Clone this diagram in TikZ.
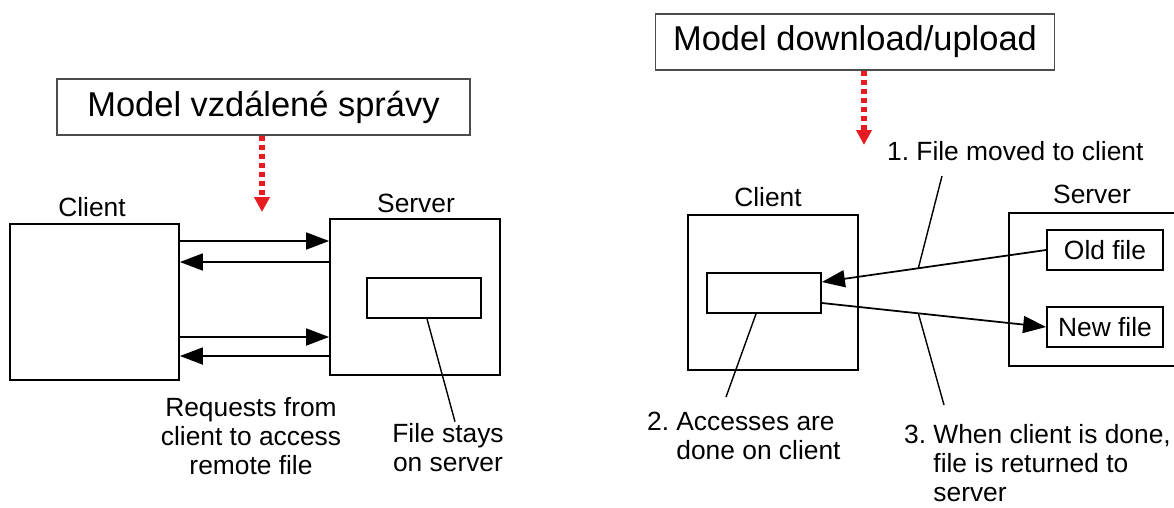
\documentclass[tikz,border=0pt]{standalone}
\usepackage{fontspec}
\setmainfont{Liberation Sans}
\usetikzlibrary{arrows.meta}
\definecolor{hintred}{RGB}{232,28,32}
\frenchspacing

\begin{document}
\begin{tikzpicture}[x=0.2mm,y=-0.2mm,
		box/.style={draw, line width=1pt, inner sep=0pt},
		titlebox/.style={draw=black!70, line width=0.6pt, minimum height=11.2mm,
			inner sep=0pt, font=\fontsize{19.6pt}{24pt}\selectfont},
		lbl/.style={inner sep=1pt, font=\fontsize{15pt}{16.5pt}\selectfont},
		arr/.style={line width=1pt, -{Triangle[length=4.6mm,width=3.4mm]}},
		hint/.style={hintred, line width=3pt, dash pattern=on 1mm off 0.8mm,
			-{Triangle[length=3mm,width=3mm,sep=0.6mm]}},
		pin/.style={line width=0.8pt}]
	\clip (0,0) rectangle (1174,507);
	% left: remote access
	\node[titlebox, minimum width=82.6mm] (tA) at (263.5,107) {Model vzdálené správy};
	\coordinate (hA) at (262,215);
	\draw[hint] (tA.south -| hA) -- (hA);
	\node[lbl] (cAl) at (92,207) {Client};
	\node[lbl] (sAl) at (416,203) {Server};
	\node[box, minimum width=33.8mm, minimum height=31.2mm] (cA) at (94.5,302) {};
	\node[box, minimum width=34mm, minimum height=31.2mm] (sA) at (415,297) {};
	\node[box, minimum width=22.8mm, minimum height=8mm] (fA) at (424,298) {};
	\foreach \y in {241,337}
		\draw[arr] (cA.east |- 0,\y) -- (sA.west |- 0,\y);
	\foreach \y in {262,356}
		\draw[arr] (sA.west |- 0,\y) -- (cA.east |- 0,\y);
	\node[lbl, align=center] (reqA) at (251,436) {Requests from\\client to access\\remote file};
	\node[lbl, align=center] (stayA) at (448,448) {File stays\\on server};
	\draw[pin] (fA.south -| 427,0) -- (stayA.north -| 455,0);
	% right: download/upload
	\node[titlebox, minimum width=79.8mm] (tB) at (855,42) {Model download/upload};
	\coordinate (hB) at (864,148);
	\draw[hint] (tB.south -| hB) -- (hB);
	\node[lbl, anchor=west] (l1) at (885,151) {1. File moved to client};
	\node[lbl] (cBl) at (768,197) {Client};
	\node[lbl] (sBl) at (1092,194) {Server};
	\node[box, minimum width=34mm, minimum height=31mm] (cB) at (773,292.5) {};
	\node[box, minimum width=22.8mm, minimum height=8mm] (fB) at (764,293) {};
	\node[box, minimum width=40mm, minimum height=30.6mm] (sB) at (1109,289.5) {};
	\node[box, lbl, minimum width=23.2mm, minimum height=8mm] (oldB) at (1105,250) {Old file};
	\node[box, lbl, minimum width=23.2mm, minimum height=8mm] (newB) at (1105,327) {New file};
	\draw[arr] (oldB.west) -- coordinate[pos=0.57] (p1) (fB.east |- 0,282);
	\draw[arr] (fB.east |- 0,303) -- coordinate[pos=0.43] (p3) (newB.west);
	\coordinate (t1) at (942,176);
	\coordinate (t2) at (726,397);
	\coordinate (t3) at (944,405);
	\draw[pin] (p1) -- (t1);
	\draw[pin] (fB.south -| 756,0) -- (t2);
	\draw[pin] (p3) -- (t3);
	\node[lbl, anchor=north west, align=left] (l2) at (645,410) {2. Accesses are\\\phantom{2. }done on client};
	\node[lbl, anchor=north west, align=left] (l3) at (902,422) {3. When client is done,\\\phantom{3. }file is returned to\\\phantom{3. }server};
\end{tikzpicture}
\end{document}
